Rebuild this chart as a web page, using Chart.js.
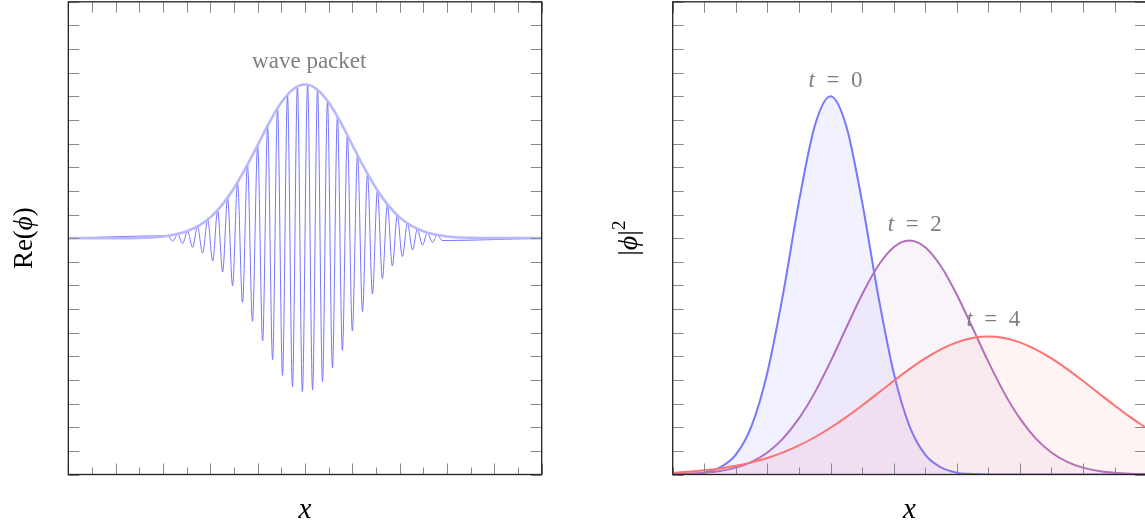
<!DOCTYPE html>
<html>
<head>
<meta charset="utf-8">
<script src="https://cdn.jsdelivr.net/npm/chart.js@4.4.0/dist/chart.umd.min.js"></script>
<style>
  body { margin: 0; width: 1145px; height: 528px; overflow: hidden; position: relative; background: #fff; }
  canvas { position: absolute; top: 0; }
</style>
</head>
<body>
<canvas id="packet" width="560" height="528" style="left:0"></canvas>
<canvas id="density" width="560" height="528" style="left:600px"></canvas>
<script>
// left panel: extrema of Re(phi)
const packetX = [-10, -5.80, -5.59, -5.38, -5.17, -4.96, -4.75, -4.54, -4.33, -4.11, -3.90, -3.69, -3.48, -3.27, -3.06,
  -2.85, -2.64, -2.43, -2.22, -2.00, -1.79, -1.58, -1.37, -1.16, -0.95, -0.74, -0.53, -0.32, -0.11,
  0.11, 0.32, 0.53, 0.74, 0.95, 1.16, 1.37, 1.58, 1.79, 2.00, 2.22, 2.43, 2.64, 2.85,
  3.06, 3.27, 3.48, 3.69, 3.90, 4.11, 4.33, 4.54, 4.75, 4.96, 5.17, 5.38, 5.59, 5.80, 10];
const packetY = [0, 0.010, -0.013, 0.017, -0.023, 0.030, -0.039, 0.050, -0.063, 0.078, -0.097, 0.118, -0.143, 0.171, -0.202,
  0.236, -0.272, 0.311, -0.352, 0.393, -0.435, 0.475, -0.514, 0.549, -0.581, 0.607, -0.628, 0.642, -0.649,
  0.649, -0.642, 0.628, -0.607, 0.581, -0.549, 0.514, -0.475, 0.435, -0.393, 0.352, -0.311, 0.272, -0.236,
  0.202, -0.171, 0.143, -0.118, 0.097, -0.078, 0.063, -0.050, 0.039, -0.030, 0.023, -0.017, 0.013, -0.010, 0];

// envelope of the packet
const envX = [-10, -8, -7, -6.5, -6, -5.5, -5, -4.5, -4, -3.5, -3, -2.5, -2, -1.5, -1, -0.5, 0,
  0.5, 1, 1.5, 2, 2.5, 3, 3.5, 4, 4.5, 5, 5.5, 6, 6.5, 7, 8, 10];
const envY = [0, 0, 0.001, 0.003, 0.007, 0.015, 0.029, 0.052, 0.088, 0.141, 0.211, 0.298, 0.394, 0.491, 0.574, 0.630, 0.650,
  0.630, 0.574, 0.491, 0.394, 0.298, 0.211, 0.141, 0.088, 0.052, 0.029, 0.015, 0.007, 0.003, 0.001, 0, 0];

// right panel: |phi|^2 at three times
const densityX = [0, 0.5, 1, 1.5, 2, 2.5, 3, 3.5, 4, 4.5, 5, 5.5, 6, 6.5, 7, 7.5, 8, 8.5, 9, 9.5, 10,
  10.5, 11, 11.5, 12, 12.5, 13, 13.5, 14, 14.5, 15];
const densityT0 = [0.0002, 0.001, 0.004, 0.015, 0.042, 0.103, 0.216, 0.383, 0.577, 0.737, 0.800, 0.737, 0.577, 0.383,
  0.216, 0.103, 0.042, 0.015, 0.004, 0.001, 0, 0, 0, 0, 0, 0, 0, 0, 0, 0, 0];
const densityT2 = [0.0007, 0.0016, 0.0036, 0.0074, 0.0145, 0.0268, 0.0466, 0.0765, 0.1186, 0.1732, 0.2387, 0.3104,
  0.3807, 0.4405, 0.4808, 0.495, 0.4808, 0.4405, 0.3807, 0.3104, 0.2387, 0.1732, 0.1186, 0.0765, 0.0466, 0.0268,
  0.0145, 0.0074, 0.0036, 0.0016, 0.0007];
const densityT4 = [0.0038, 0.0059, 0.0088, 0.0128, 0.0183, 0.0256, 0.0350, 0.0469, 0.0615, 0.0788, 0.0989, 0.1215,
  0.1461, 0.1718, 0.1978, 0.2228, 0.2456, 0.2649, 0.2796, 0.2889, 0.292, 0.2889, 0.2796, 0.2649, 0.2456, 0.2228,
  0.1978, 0.1718, 0.1461, 0.1215, 0.0989];
const timeLabels = ["0", "2", "4"];

const SERIF = '"Liberation Serif", "DejaVu Serif", serif';
const font = (size, italic) => (italic ? "italic " : "") + size + "px " + SERIF;
const pts = (xs, ys) => xs.map((x, i) => ({ x, y: ys[i] }));

function drawRuns(ctx, runs, cx, cy, rot, color) {
  ctx.save();
  ctx.translate(cx, cy);
  if (rot) ctx.rotate(rot);
  ctx.fillStyle = color;
  ctx.textBaseline = "alphabetic";
  ctx.textAlign = "left";
  let w = 0;
  runs.forEach((r) => { ctx.font = r.font; w += ctx.measureText(r.text).width; });
  let xx = -w / 2;
  runs.forEach((r) => {
    ctx.font = r.font;
    ctx.fillText(r.text, xx, r.dy || 0);
    xx += ctx.measureText(r.text).width;
  });
  ctx.restore();
}

// box, inward ticks, axis titles and annotations
const frame = {
  id: "frame",
  afterDraw(chart, args, opts) {
    const { ctx, chartArea: a } = chart;
    const { x, y } = chart.scales;
    ctx.save();
    ctx.strokeStyle = "#8a8a8a";
    ctx.lineWidth = 1;
    ctx.beginPath();
    x.ticks.forEach((t) => {
      const px = Math.round(x.getPixelForValue(t.value)) + 0.5;
      const long = Math.round(Math.abs(t.value)) % 2 === opts.longParity;
      ctx.moveTo(px, a.bottom);
      ctx.lineTo(px, a.bottom - (long ? 11 : 7));
      ctx.moveTo(px, a.top);
      ctx.lineTo(px, a.top + 11);
    });
    y.ticks.forEach((t) => {
      const py = Math.round(y.getPixelForValue(t.value)) + 0.5;
      ctx.moveTo(a.left, py);
      ctx.lineTo(a.left + 11, py);
      ctx.moveTo(a.right, py);
      ctx.lineTo(a.right - 11, py);
    });
    ctx.stroke();
    ctx.strokeStyle = "#222";
    ctx.lineWidth = 1.3;
    ctx.strokeRect(a.left, a.top, a.right - a.left, a.bottom - a.top);
    ctx.restore();

    const midX = (a.left + a.right) / 2;
    const midY = (a.top + a.bottom) / 2;
    drawRuns(ctx, [{ text: "x", font: font(29, true) }], midX, a.bottom + 43.5, 0, "#000");
    drawRuns(ctx, opts.yTitle, a.left - 36, midY, -Math.PI / 2, "#000");
    opts.notes.forEach((n) => {
      drawRuns(ctx, n.runs, x.getPixelForValue(n.x), y.getPixelForValue(n.y), 0, "#808080");
    });
  },
};

const hidden = { display: false };

const packetChart = new Chart(document.getElementById("packet"), {
  type: "line",
  data: {
    datasets: [
      {
        label: "envelope",
        data: pts(envX, envY),
        borderColor: "#b8b8ff",
        borderWidth: 2.6,
        pointRadius: 0,
        cubicInterpolationMode: "monotone",
        order: 0,
      },
      {
        label: "Re(phi)",
        data: pts(packetX, packetY),
        borderColor: "#7676ff",
        borderWidth: 1,
        pointRadius: 0,
        cubicInterpolationMode: "monotone",
        order: 1,
      },
    ],
  },
  options: {
    responsive: false,
    animation: false,
    devicePixelRatio: 1,
    layout: { padding: { left: 68.3, right: 18.3, top: 1.8, bottom: 53.5 } },
    scales: {
      x: { ...hidden, type: "linear", min: -10, max: 10, ticks: { stepSize: 1 } },
      y: { ...hidden, min: -1, max: 1, ticks: { stepSize: 0.1 } },
    },
    plugins: {
      legend: { display: false },
      tooltip: { enabled: false },
      frame: {
        longParity: 0,
        yTitle: [
          { text: "Re(", font: font(27) },
          { text: "ϕ", font: font(27, true) },
          { text: ")", font: font(27) },
        ],
        notes: [{ x: 0.18, y: 0.719, runs: [{ text: "wave packet", font: font(23) }] }],
      },
    },
  },
  plugins: [frame],
});

const tRuns = (v) => [
  { text: "t", font: font(23, true) },
  { text: "\u2002=\u2002" + v, font: font(23) },
];

const densityChart = new Chart(document.getElementById("density"), {
  type: "line",
  data: {
    datasets: [
      {
        label: "t = 0",
        data: pts(densityX, densityT0),
        borderColor: "#7878ff",
        backgroundColor: "rgba(120,120,255,0.1)",
        fill: "origin",
        borderWidth: 2,
        pointRadius: 0,
        cubicInterpolationMode: "monotone",
        order: 2,
      },
      {
        label: "t = 2",
        data: pts(densityX, densityT2),
        borderColor: "#b16fbe",
        backgroundColor: "rgba(180,110,190,0.08)",
        fill: "origin",
        borderWidth: 2,
        pointRadius: 0,
        cubicInterpolationMode: "monotone",
        order: 1,
      },
      {
        label: "t = 4",
        data: pts(densityX, densityT4),
        borderColor: "#ff7272",
        backgroundColor: "rgba(255,112,112,0.08)",
        fill: "origin",
        borderWidth: 2,
        pointRadius: 0,
        cubicInterpolationMode: "monotone",
        order: 0,
      },
    ],
  },
  options: {
    responsive: false,
    animation: false,
    devicePixelRatio: 1,
    layout: { padding: { left: 72.7, right: 13.9, top: 1.8, bottom: 53.5 } },
    scales: {
      x: { ...hidden, type: "linear", min: 0, max: 15, ticks: { stepSize: 1 } },
      y: { ...hidden, min: 0, max: 1, ticks: { stepSize: 0.05 } },
    },
    plugins: {
      legend: { display: false },
      tooltip: { enabled: false },
      frame: {
        longParity: 1,
        yTitle: [
          { text: "|", font: font(28) },
          { text: "ϕ", font: font(28, true) },
          { text: "|", font: font(28) },
          { text: "2", font: font(19), dy: -12 },
        ],
        notes: [
          { x: 5.16, y: 0.819, runs: tRuns(timeLabels[0]) },
          { x: 7.67, y: 0.515, runs: tRuns(timeLabels[1]) },
          { x: 10.16, y: 0.314, runs: tRuns(timeLabels[2]) },
        ],
      },
    },
  },
  plugins: [frame],
});
</script>
</body>
</html>
